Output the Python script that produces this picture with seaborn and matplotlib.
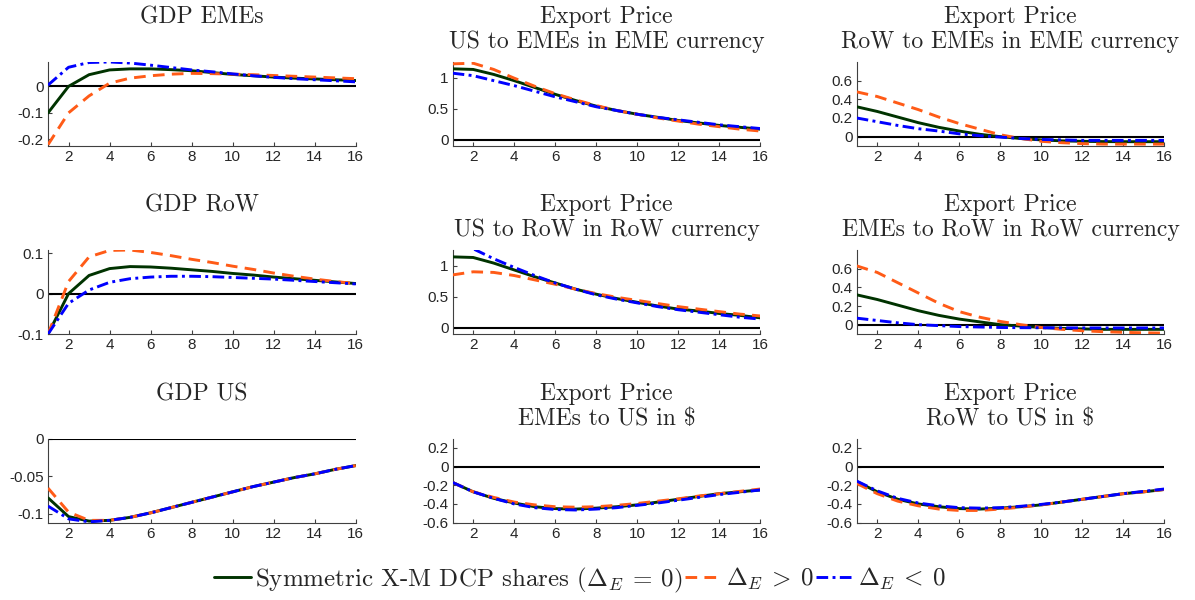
import numpy as np
import pandas as pd
import seaborn as sns
import matplotlib.pyplot as plt
import matplotlib.ticker as ticker
from matplotlib.lines import Line2D

# horizon
h = list(range(1, 17))

# --- GDP EMEs ---
gdp_eme_sym = [-0.1, 0.0, 0.044, 0.062, 0.066, 0.066, 0.063, 0.059, 0.052, 0.045, 0.040, 0.035, 0.031, 0.028, 0.025, 0.022]
gdp_eme_pos = [-0.22, -0.1, -0.036, 0.012, 0.031, 0.040, 0.046, 0.049, 0.048, 0.046, 0.044, 0.041, 0.038, 0.035, 0.032, 0.029]
gdp_eme_neg = [0.005, 0.072, 0.090, 0.092, 0.088, 0.080, 0.071, 0.062, 0.055, 0.047, 0.040, 0.034, 0.029, 0.025, 0.021, 0.017]

# --- Export price US to EMEs ---
px_us_eme_sym = [1.14, 1.13, 1.05, 0.95, 0.84, 0.73, 0.63, 0.54, 0.47, 0.41, 0.36, 0.31, 0.27, 0.23, 0.20, 0.17]
px_us_eme_pos = [1.22, 1.23, 1.13, 0.99, 0.86, 0.74, 0.64, 0.55, 0.47, 0.41, 0.35, 0.30, 0.25, 0.21, 0.17, 0.14]
px_us_eme_neg = [1.07, 1.03, 0.95, 0.87, 0.78, 0.69, 0.61, 0.53, 0.47, 0.41, 0.36, 0.32, 0.28, 0.24, 0.21, 0.18]

# --- Export price RoW to EMEs ---
px_row_eme_sym = [0.32, 0.27, 0.21, 0.15, 0.10, 0.06, 0.025, 0.0, -0.02, -0.035, -0.045, -0.05, -0.053, -0.054, -0.054, -0.054]
px_row_eme_pos = [0.48, 0.43, 0.36, 0.29, 0.21, 0.14, 0.08, 0.02, -0.02, -0.05, -0.065, -0.075, -0.08, -0.08, -0.08, -0.08]
px_row_eme_neg = [0.20, 0.16, 0.12, 0.085, 0.06, 0.03, 0.01, -0.005, -0.02, -0.03, -0.035, -0.04, -0.04, -0.04, -0.04, -0.04]

# --- GDP RoW ---
gdp_row_sym = [-0.1, 0.0, 0.045, 0.062, 0.067, 0.066, 0.063, 0.059, 0.055, 0.050, 0.046, 0.041, 0.037, 0.033, 0.029, 0.025]
gdp_row_pos = [-0.1, 0.03, 0.091, 0.107, 0.108, 0.102, 0.094, 0.085, 0.077, 0.068, 0.060, 0.051, 0.043, 0.036, 0.030, 0.025]
gdp_row_neg = [-0.1, -0.024, 0.009, 0.028, 0.037, 0.041, 0.043, 0.043, 0.042, 0.040, 0.038, 0.036, 0.033, 0.030, 0.027, 0.024]

# --- Export price US to RoW ---
px_us_row_sym = [1.14, 1.13, 1.04, 0.93, 0.82, 0.72, 0.62, 0.54, 0.47, 0.41, 0.35, 0.30, 0.27, 0.23, 0.20, 0.16]
px_us_row_pos = [0.85, 0.90, 0.89, 0.84, 0.77, 0.70, 0.62, 0.55, 0.49, 0.44, 0.39, 0.34, 0.30, 0.26, 0.22, 0.19]
px_us_row_neg = [1.40, 1.27, 1.11, 0.97, 0.84, 0.72, 0.62, 0.53, 0.46, 0.40, 0.34, 0.29, 0.25, 0.21, 0.17, 0.14]

# --- Export price EMEs to RoW ---
px_eme_row_sym = [0.32, 0.27, 0.21, 0.15, 0.10, 0.06, 0.03, 0.0, -0.015, -0.03, -0.04, -0.045, -0.05, -0.05, -0.05, -0.05]
px_eme_row_pos = [0.63, 0.56, 0.45, 0.34, 0.23, 0.14, 0.08, 0.035, 0.0, -0.03, -0.05, -0.065, -0.075, -0.082, -0.087, -0.09]
px_eme_row_neg = [0.07, 0.045, 0.02, 0.0, -0.01, -0.02, -0.025, -0.03, -0.032, -0.033, -0.034, -0.035, -0.035, -0.035, -0.035, -0.035]

# --- GDP US ---
gdp_us_sym = [-0.079, -0.104, -0.110, -0.109, -0.105, -0.099, -0.092, -0.085, -0.078, -0.071, -0.064, -0.058, -0.052, -0.047, -0.041, -0.036]
gdp_us_pos = [-0.066, -0.098, -0.109, -0.109, -0.105, -0.099, -0.092, -0.085, -0.078, -0.071, -0.064, -0.058, -0.052, -0.047, -0.041, -0.036]
gdp_us_neg = [-0.090, -0.107, -0.111, -0.109, -0.105, -0.099, -0.092, -0.085, -0.078, -0.071, -0.064, -0.058, -0.052, -0.047, -0.041, -0.036]

# --- Export price EMEs to US ---
px_eme_us_sym = [-0.17, -0.27, -0.34, -0.39, -0.43, -0.45, -0.455, -0.445, -0.43, -0.41, -0.38, -0.35, -0.32, -0.29, -0.27, -0.25]
px_eme_us_pos = [-0.17, -0.27, -0.33, -0.38, -0.41, -0.43, -0.435, -0.43, -0.415, -0.395, -0.37, -0.345, -0.315, -0.29, -0.265, -0.24]
px_eme_us_neg = [-0.17, -0.27, -0.34, -0.40, -0.44, -0.46, -0.465, -0.455, -0.44, -0.415, -0.39, -0.36, -0.33, -0.30, -0.275, -0.25]

# --- Export price RoW to US ---
px_row_us_sym = [-0.16, -0.27, -0.35, -0.40, -0.43, -0.45, -0.455, -0.445, -0.43, -0.41, -0.38, -0.35, -0.32, -0.29, -0.27, -0.245]
px_row_us_pos = [-0.18, -0.29, -0.37, -0.42, -0.455, -0.47, -0.47, -0.455, -0.435, -0.41, -0.38, -0.35, -0.32, -0.29, -0.27, -0.245]
px_row_us_neg = [-0.155, -0.26, -0.34, -0.39, -0.42, -0.44, -0.445, -0.44, -0.425, -0.405, -0.38, -0.35, -0.32, -0.29, -0.265, -0.24]

titles = ['GDP EMEs', 'Export Price\nUS to EMEs in EME currency', 'Export Price\nRoW to EMEs in EME currency',
          'GDP RoW', 'Export Price\nUS to RoW in RoW currency', 'Export Price\nEMEs to RoW in RoW currency',
          'GDP US', 'Export Price\nEMEs to US in $', 'Export Price\nRoW to US in $']

series = [(gdp_eme_sym, gdp_eme_pos, gdp_eme_neg),
          (px_us_eme_sym, px_us_eme_pos, px_us_eme_neg),
          (px_row_eme_sym, px_row_eme_pos, px_row_eme_neg),
          (gdp_row_sym, gdp_row_pos, gdp_row_neg),
          (px_us_row_sym, px_us_row_pos, px_us_row_neg),
          (px_eme_row_sym, px_eme_row_pos, px_eme_row_neg),
          (gdp_us_sym, gdp_us_pos, gdp_us_neg),
          (px_eme_us_sym, px_eme_us_pos, px_eme_us_neg),
          (px_row_us_sym, px_row_us_pos, px_row_us_neg)]

ylims = [(-0.225, 0.092), (-0.1, 1.25), (-0.1, 0.8),
         (-0.1, 0.108), (-0.1, 1.25), (-0.1, 0.8),
         (-0.112, 0.0), (-0.6, 0.3), (-0.6, 0.3)]
yticks = [[-0.2, -0.1, 0], [0, 0.5, 1], [0, 0.2, 0.4, 0.6],
          [-0.1, 0, 0.1], [0, 0.5, 1], [0, 0.2, 0.4, 0.6],
          [-0.1, -0.05, 0], [-0.6, -0.4, -0.2, 0, 0.2], [-0.6, -0.4, -0.2, 0, 0.2]]

cases = ['sym', 'pos', 'neg']
palette = {'sym': '#003300', 'pos': '#ff5b17', 'neg': '#0000ff'}
dashes = {'sym': '', 'pos': (4, 2.5), 'neg': (4, 1.5, 1, 1.5)}

sns.set_style('ticks')
plt.rcParams['font.family'] = ['Liberation Sans', 'DejaVu Sans']
plt.rcParams['mathtext.fontset'] = 'cm'
plt.rcParams['axes.unicode_minus'] = False

fig = plt.figure(figsize=(11.95, 6.0), dpi=100)

lefts = [0.0402, 0.3788, 0.7169]
bottoms = [0.7567, 0.4433, 0.129]

for i in range(9):
    r, c = divmod(i, 3)
    ax = fig.add_axes([lefts[c], bottoms[r], 0.2575, 0.14])
    df = pd.DataFrame({'h': h * 3,
                       'value': series[i][0] + series[i][1] + series[i][2],
                       'case': [k for k in cases for _ in h]})
    ax.axhline(0, color='black', lw=1.5, zorder=1)
    sns.lineplot(data=df, x='h', y='value', hue='case', style='case', palette=palette,
                 dashes=dashes, linewidth=2.1, ax=ax, legend=False, zorder=3)
    ax.set_xlim(1, 16)
    ax.set_ylim(*ylims[i])
    ax.set_xticks(range(2, 17, 2))
    ax.set_yticks(yticks[i])
    ax.yaxis.set_major_formatter(ticker.FuncFormatter(lambda v, p: f'{v:g}'))
    ax.set_xlabel('')
    ax.set_ylabel('')
    ax.tick_params(direction='in', length=3, width=0.8, colors='#404040',
                   labelcolor='#262626', labelsize=11, pad=3)
    for s in ['top', 'right']:
        ax.spines[s].set_visible(False)
    for s in ['left', 'bottom']:
        ax.spines[s].set_color('#404040')
        ax.spines[s].set_linewidth(0.8)
    t = titles[i] if '\n' in titles[i] else titles[i] + '\n '
    ax.set_title(t, fontfamily='cmr10', fontsize=17, pad=10, linespacing=1.15)

handles = [Line2D([], [], color=palette['sym'], lw=2.1),
           Line2D([], [], color=palette['pos'], lw=2.1, dashes=dashes['pos']),
           Line2D([], [], color=palette['neg'], lw=2.1, dashes=dashes['neg'])]
labels = [r'Symmetric X-M DCP shares ($\Delta_E\:=\:0$)', r'$\Delta_E\:>\:0$', r'$\Delta_E\:<\:0$']
fig.legend(handles, labels, loc='center', bbox_to_anchor=(0.485, 0.033), ncol=3, frameon=False,
           prop={'family': 'cmr10', 'size': 18}, handlelength=1.5, handletextpad=0.15,
           columnspacing=0.1)

fig.savefig('out.png', dpi=100)
